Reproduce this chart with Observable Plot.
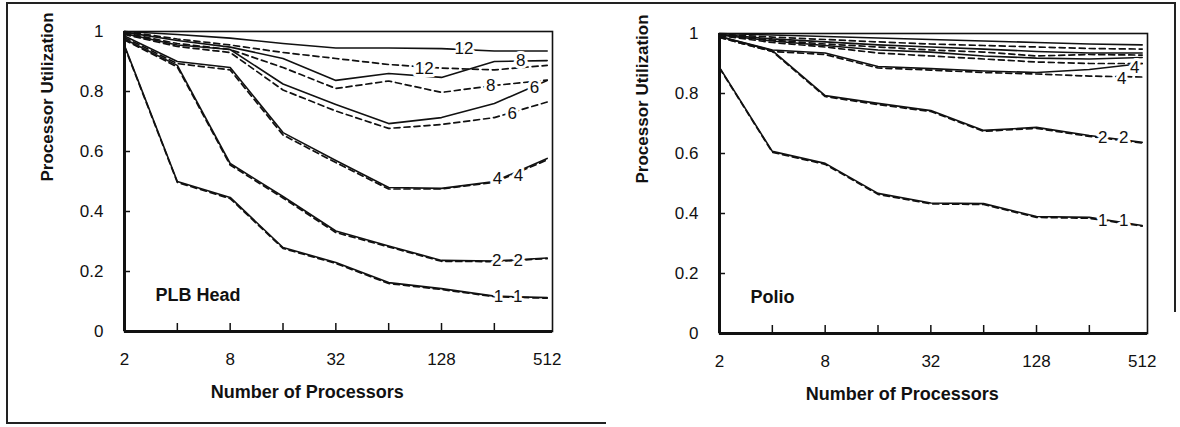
<!DOCTYPE html>
<html><head><meta charset="utf-8">
<script src="https://cdn.jsdelivr.net/npm/d3@7"></script>
<script src="https://cdn.jsdelivr.net/npm/@observablehq/plot@0.6"></script>
<style>
body{margin:0;background:#fff;}
#wrap{position:relative;width:1180px;height:427px;overflow:hidden;background:#fff;font-family:"Liberation Sans",Arial,Helvetica,sans-serif;}
.p{position:absolute;}
.b{position:absolute;background:#222;}
</style></head><body><div id="wrap">
<div class="b" style="left:6px;top:2px;width:1170px;height:2px"></div>
<div class="b" style="left:6px;top:2px;width:2px;height:422px"></div>
<div class="b" style="left:6px;top:422px;width:600px;height:2px"></div>
<div class="b" style="left:1174px;top:2px;width:2px;height:310px"></div>
</div>
<script>
// ---- axes ----
const procs = [2, 4, 8, 16, 32, 64, 128, 256, 512];
const xTickLabels = [2, 8, 32, 128, 512];
const xMinorTicks = [4, 8, 16, 32, 64, 128, 256];
const yTickLabels = [0, 0.2, 0.4, 0.6, 0.8, 1];
const yMinorTicks = [0.2, 0.4, 0.6, 0.8];
const xTitle = "Number of Processors";
const yTitle = "Processor Utilization";

// ---- PLB Head (solid / dashed) ----
const plb12s = [1.000, 0.990, 0.978, 0.960, 0.945, 0.945, 0.943, 0.935, 0.935];
const plb12d = [1.000, 0.975, 0.955, 0.930, 0.910, 0.890, 0.878, 0.872, 0.887];
const plb8s  = [0.998, 0.970, 0.948, 0.910, 0.837, 0.860, 0.847, 0.900, 0.903];
const plb8d  = [0.995, 0.960, 0.940, 0.880, 0.810, 0.835, 0.797, 0.820, 0.838];
const plb6s  = [0.993, 0.955, 0.940, 0.825, 0.757, 0.693, 0.713, 0.760, 0.837];
const plb6d  = [0.990, 0.950, 0.930, 0.805, 0.735, 0.677, 0.690, 0.713, 0.765];
const plb4s  = [0.985, 0.900, 0.880, 0.663, 0.570, 0.480, 0.477, 0.500, 0.577];
const plb4d  = [0.980, 0.893, 0.872, 0.655, 0.563, 0.475, 0.475, 0.497, 0.572];
const plb2s  = [0.975, 0.887, 0.560, 0.450, 0.335, 0.285, 0.237, 0.235, 0.245];
const plb2d  = [0.972, 0.882, 0.555, 0.445, 0.330, 0.282, 0.234, 0.233, 0.243];
const plb1s  = [0.953, 0.500, 0.447, 0.280, 0.230, 0.163, 0.143, 0.118, 0.113];
const plb1d  = [0.950, 0.497, 0.443, 0.277, 0.227, 0.160, 0.140, 0.116, 0.111];
const plbLabelText = ["12", "8", "12", "8", "6", "6", "4", "4", "2", "2", "1", "1"];
const plbLabelN    = [172, 362, 102, 244, 434, 324, 267, 351, 264, 350, 270, 348];
const plbLabelV    = [0.943, 0.903, 0.877, 0.820, 0.813, 0.727, 0.510, 0.520, 0.237, 0.237, 0.117, 0.117];

// ---- Polio (solid / dashed) ----
const pol12s = [1.000, 0.995, 0.990, 0.985, 0.980, 0.975, 0.970, 0.965, 0.962];
const pol12d = [0.998, 0.988, 0.980, 0.972, 0.965, 0.960, 0.955, 0.950, 0.948];
const pol8s  = [0.997, 0.982, 0.972, 0.962, 0.955, 0.948, 0.940, 0.935, 0.935];
const pol8d  = [0.995, 0.978, 0.965, 0.955, 0.945, 0.938, 0.925, 0.930, 0.928];
const pol6s  = [0.995, 0.975, 0.960, 0.945, 0.938, 0.925, 0.918, 0.915, 0.920];
const pol6d  = [0.993, 0.970, 0.955, 0.935, 0.925, 0.915, 0.905, 0.900, 0.900];
const pol4s  = [0.990, 0.945, 0.935, 0.890, 0.883, 0.875, 0.870, 0.880, 0.900];
const pol4d  = [0.987, 0.940, 0.930, 0.885, 0.878, 0.870, 0.865, 0.858, 0.855];
const pol2s  = [0.990, 0.943, 0.793, 0.767, 0.743, 0.677, 0.687, 0.660, 0.637];
const pol2d  = [0.987, 0.940, 0.790, 0.763, 0.740, 0.674, 0.684, 0.657, 0.635];
const pol1s  = [0.887, 0.607, 0.567, 0.467, 0.435, 0.433, 0.390, 0.387, 0.360];
const pol1d  = [0.885, 0.604, 0.564, 0.464, 0.432, 0.430, 0.387, 0.384, 0.358];
const polLabelText = ["4", "4", "2", "2", "1", "1"];
const polLabelN    = [465, 391, 305, 402, 305, 402];
const polLabelV    = [0.887, 0.850, 0.653, 0.653, 0.377, 0.377];

const FONT = '"Liberation Sans", Arial, Helvetica, sans-serif';

function rows(seriesList) {
  const out = [];
  seriesList.forEach(([key, vals]) => vals.forEach((v, i) => out.push({key, n: procs[i], v})));
  return out;
}

function panel(name, solid, dashed, lt, ln, lv) {
  const labels = lt.map((t, i) => ({t, n: ln[i], v: lv[i]}));
  return Plot.plot({
    width: 595, height: 427,
    marginLeft: 124, marginRight: 43, marginTop: 31, marginBottom: 96,
    x: {type: "log", base: 2, domain: [2, 549], label: null},
    y: {domain: [0, 1], label: null},
    style: {fontFamily: FONT, fontSize: "17px", color: "#111", background: "transparent", overflow: "visible"},
    marks: [
      Plot.axisX(xTickLabels, {tickSize: 0, tickPadding: 21, tickFormat: d => String(d), fontSize: 17, label: null}),
      Plot.axisY(yTickLabels, {tickSize: 0, tickPadding: 21, tickFormat: d => String(d), fontSize: 17, label: null}),
      Plot.ruleX(xMinorTicks, {x: d => d, y1: 0, y2: 8 / 300, stroke: "#111", strokeWidth: 1.5}),
      Plot.ruleY(yMinorTicks, {y: d => d, x1: 2, x2: 2 * 2 ** (6 / 52.7), stroke: "#111", strokeWidth: 1.5}),
      Plot.line(rows(dashed), {x: "n", y: "v", z: "key", stroke: "#111", strokeWidth: 1.7, strokeDasharray: "6,4"}),
      Plot.line(rows(solid), {x: "n", y: "v", z: "key", stroke: "#111", strokeWidth: 1.6}),
      Plot.text(labels, {x: "n", y: "v", text: "t", fontSize: 17, fill: "#111", stroke: "white", strokeWidth: 6}),
      Plot.frame({stroke: "#111", strokeWidth: 1.6}),
      Plot.ruleX([2], {stroke: "#111", strokeWidth: 3}),
      Plot.ruleY([0], {stroke: "#111", strokeWidth: 3}),
      Plot.text([name], {x: () => 3.0, y: () => 0.12, text: d => d, textAnchor: "start", fontWeight: "bold", fontSize: 18, fill: "#111"}),
      Plot.text([xTitle], {x: () => 22, frameAnchor: "bottom", dy: 66, text: d => d, fontWeight: "bold", fontSize: 18, fill: "#111"}),
      Plot.text([yTitle], {frameAnchor: "left", dx: -77, rotate: -90, text: d => d, fontWeight: "bold", fontSize: 17, fill: "#111"})
    ]
  });
}

const wrap = document.getElementById("wrap");
const left = panel("PLB Head",
  [["12", plb12s], ["8", plb8s], ["6", plb6s], ["4", plb4s], ["2", plb2s], ["1", plb1s]],
  [["12", plb12d], ["8", plb8d], ["6", plb6d], ["4", plb4d], ["2", plb2d], ["1", plb1d]],
  plbLabelText, plbLabelN, plbLabelV);
left.classList.add("p"); left.style.left = "0px"; left.style.top = "0px";
wrap.appendChild(left);

const right = panel("Polio",
  [["12", pol12s], ["8", pol8s], ["6", pol6s], ["4", pol4s], ["2", pol2s], ["1", pol1s]],
  [["12", pol12d], ["8", pol8d], ["6", pol6d], ["4", pol4d], ["2", pol2d], ["1", pol1d]],
  polLabelText, polLabelN, polLabelV);
right.classList.add("p"); right.style.left = "595px"; right.style.top = "2px";
wrap.appendChild(right);
</script>
</body></html>
